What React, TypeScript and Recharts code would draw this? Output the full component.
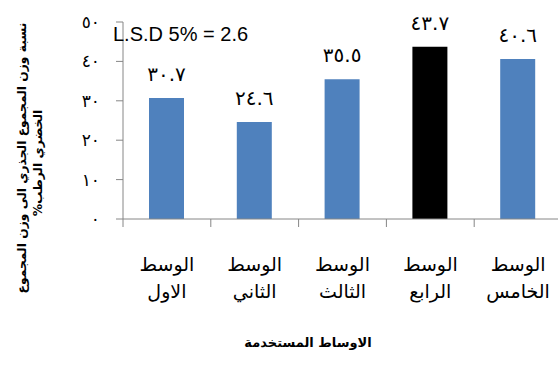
import React from 'react';
import { BarChart, Bar, XAxis, YAxis, Cell, LabelList } from 'recharts';

// growing media, left to right
const media = ['الوسط الاول', 'الوسط الثاني', 'الوسط الثالث', 'الوسط الرابع', 'الوسط الخامس'];
// root / wet shoot weight ratio (%)
const rootRatio = [30.7, 24.6, 35.5, 43.7, 40.6];
const yTicks = [0, 10, 20, 30, 40, 50];
const bestIndex = 3;
const lsdText = 'L.S.D 5% = 2.6';
const yTitle = ['نسبة وزن المجموع الجذري الى وزن المجموع', 'الخضري الرطب%'];
const xTitle = 'الاوساط المستخدمة';

const data = media.map((name, i) => ({ name, value: rootRatio[i] }));

const W = 566;
const H = 370;
const M = { top: 22, right: 4, left: 0, bottom: 91 };
const Y_W = 123;
const BAND = (W - M.left - M.right - Y_W) / media.length;

const AR_FONT = '"DejaVu Sans", sans-serif';
const AXIS = '#868686';
const BLUE = '#4F81BD';

const toArabic = (v: number | string) =>
  String(v).replace(/[0-9]/g, (d) => '٠١٢٣٤٥٦٧٨٩'[Number(d)]);

function MediumTick({ x, y, payload }: any) {
  const [first, ...rest] = String(payload.value).split(' ');
  const edge = x - BAND / 2;
  return (
    <g>
      <line x1={edge} y1={y} x2={edge} y2={y + 8} stroke={AXIS} />
      <text x={x} y={y + 52} textAnchor="middle" fontFamily={AR_FONT} fontSize={19} fill="#000">
        {first}
      </text>
      <text x={x} y={y + 79} textAnchor="middle" fontFamily={AR_FONT} fontSize={19} fill="#000">
        {rest.join(' ')}
      </text>
    </g>
  );
}

export default function App() {
  return (
    <div style={{ position: 'fixed', left: 0, top: 0, width: 558, height: H, overflow: 'hidden', background: '#fff' }}>
      <BarChart width={W} height={H} data={data} margin={M}>
        <XAxis
          dataKey="name"
          height={60}
          tickSize={0}
          tickMargin={0}
          tickLine={false}
          axisLine={{ stroke: AXIS }}
          tick={<MediumTick />}
          interval={0}
        />
        <YAxis
          width={Y_W}
          domain={[0, 50]}
          ticks={yTicks}
          tickSize={7}
          tickMargin={16}
          tickLine={{ stroke: AXIS }}
          axisLine={{ stroke: AXIS }}
          tickFormatter={(v) => toArabic(v)}
          tick={{ fontFamily: AR_FONT, fontSize: 17, fill: '#000' }}
        />
        <Bar dataKey="value" barSize={35} fill={BLUE} isAnimationActive={false}>
          {data.map((d, i) => (
            <Cell key={d.name} fill={i === bestIndex ? '#000' : BLUE} />
          ))}
          <LabelList
            dataKey="value"
            position="top"
            offset={17}
            formatter={(v: any) => toArabic(Number(v).toFixed(1))}
            style={{ fontFamily: AR_FONT, fontSize: 20, fill: '#000' }}
          />
        </Bar>
      </BarChart>
      <svg width={558} height={H} style={{ position: 'absolute', left: 0, top: 0, pointerEvents: 'none' }}>
        <text x={113} y={41} fontFamily='"Liberation Sans", sans-serif' fontSize={20} fill="#000">
          {lsdText}
        </text>
        <g fontFamily={AR_FONT} fontSize={12.3} fontWeight="bold" fill="#000" textAnchor="middle">
          <text direction="rtl" transform="translate(26,158) rotate(-90)">{yTitle[0]}</text>
          <text direction="rtl" transform="translate(42,163) rotate(-90)">{yTitle[1]}</text>
          <text direction="rtl" x={308} y={347} fontSize={13}>{xTitle}</text>
        </g>
      </svg>
    </div>
  );
}
